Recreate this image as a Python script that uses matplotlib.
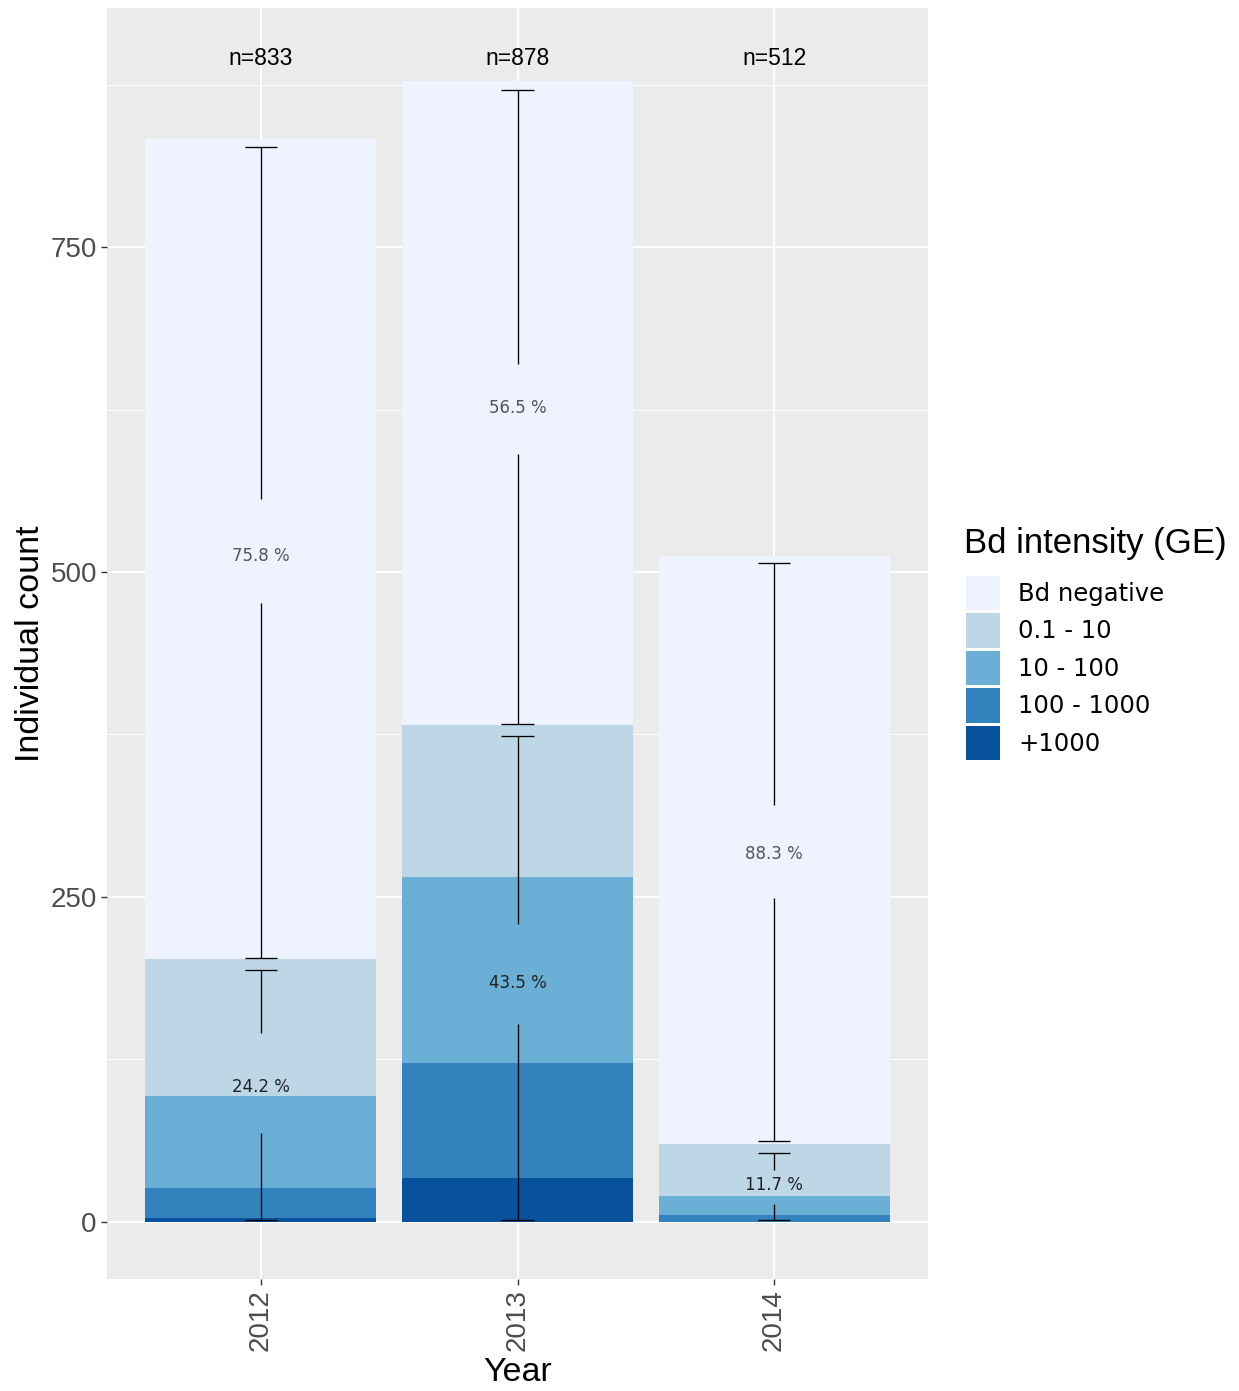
import matplotlib
matplotlib.use("Agg")
import matplotlib.pyplot as plt
from matplotlib.patches import Patch
from matplotlib.ticker import MultipleLocator
import numpy as np

# ---- data -------------------------------------------------------------
years = ["2012", "2013", "2014"]
intensity_classes = ["Bd negative", "0.1 - 10", "10 - 100", "100 - 1000", "+1000"]

# individuals per Bd intensity class and year
bd_negative = [631, 496, 452]
ge_0_1_10 = [105, 117, 40]
ge_10_100 = [71, 143, 15]
ge_100_1000 = [23, 88, 5]
ge_1000_plus = [3, 34, 0]

# error bar limits for the negative and positive groups
neg_err_low = [203, 383, 62.5]
neg_err_high = [827, 871, 507]
pos_err_low = [1.3, 1.3, 1.3]
pos_err_high = [194, 374, 53]

# y-positions of the percentage labels and the break around them
neg_label_y = [512, 626, 283]
pos_label_y = [104, 184, 28.5]
neg_break = [(476, 556), (591, 660), (249, 321)]
pos_break = [(68, 145), (152, 229), (14, 40)]

colors = ["#EFF3FF", "#BDD7E7", "#6BAED6", "#3182BD", "#08519C"]

# ---- figure -----------------------------------------------------------
W, H = 1239, 1391
fig = plt.figure(figsize=(W / 100, H / 100), dpi=100)
ax = fig.add_axes([107 / W, 1 - 1279 / H, (928 - 107) / W, (1279 - 8) / H])
ax.set_facecolor("#EBEBEB")

x = np.arange(1, len(years) + 1)
# stack from the highest intensity at the bottom up to Bd negative at the top
stack_order = [ge_1000_plus, ge_100_1000, ge_10_100, ge_0_1_10, bd_negative]
stack_colors = colors[::-1]
bottom = np.zeros(len(years))
for vals, col in zip(stack_order, stack_colors):
    vals = np.array(vals, dtype=float)
    ax.bar(x, vals, width=0.9, bottom=bottom, color=col, edgecolor="none",
           zorder=2)
    bottom += vals
totals = bottom

positives = (np.array(ge_0_1_10) + np.array(ge_10_100)
             + np.array(ge_100_1000) + np.array(ge_1000_plus))
neg_pct = np.array(bd_negative) / totals * 100
pos_pct = positives / totals * 100

cap = 0.064
lw_err = 0.95


def draw_errbar(xc, lo, hi, brk):
    ax.plot([xc, xc], [lo, brk[0]], color="black", lw=lw_err, zorder=3,
            solid_capstyle="butt")
    ax.plot([xc, xc], [brk[1], hi], color="black", lw=lw_err, zorder=3,
            solid_capstyle="butt")
    for yy in (lo, hi):
        ax.plot([xc - cap, xc + cap], [yy, yy], color="black", lw=lw_err,
                zorder=3, solid_capstyle="butt")


for i, xc in enumerate(x):
    draw_errbar(xc, neg_err_low[i], neg_err_high[i], neg_break[i])
    draw_errbar(xc, pos_err_low[i], pos_err_high[i], pos_break[i])
    ax.text(xc, neg_label_y[i], f"{neg_pct[i]:.1f} %", ha="center",
            va="center", fontsize=12, color="#555555",
            family="DejaVu Sans", zorder=4)
    ax.text(xc, pos_label_y[i], f"{pos_pct[i]:.1f} %", ha="center",
            va="center", fontsize=12, color="#222222",
            family="DejaVu Sans", zorder=4)
    ax.text(xc, 895, f"n={int(totals[i])}", ha="center", va="center",
            fontsize=16.5, color="black", family="Liberation Sans", zorder=4)

# ---- axes styling -----------------------------------------------------
ax.set_xlim(0.4, 3.6)
ax.set_ylim(-44, 934)
ax.set_xticks(x)
ax.set_xticklabels(years, rotation=90, family="Liberation Sans",
                   fontsize=20, color="#4D4D4D")
ax.yaxis.set_major_locator(MultipleLocator(250))
ax.yaxis.set_minor_locator(MultipleLocator(125))
ax.set_yticks([0, 250, 500, 750])
ax.set_yticklabels(["0", "250", "500", "750"], family="Liberation Sans",
                   fontsize=20, color="#4D4D4D")
ax.tick_params(axis="both", which="major", length=4.3, width=1.0,
               color="#333333", pad=3)
ax.tick_params(axis="y", which="minor", length=0)
ax.grid(which="major", color="white", lw=1.4, zorder=0)
ax.grid(which="minor", axis="y", color="white", lw=0.7, zorder=0)
ax.set_axisbelow(True)
for s in ax.spines.values():
    s.set_visible(False)

ax.set_xlabel("Year", family="Liberation Sans", fontsize=24.5, labelpad=4.5)
ax.set_ylabel("Individual count", family="Liberation Sans", fontsize=24.5,
              labelpad=3)

# ---- legend -----------------------------------------------------------
fig.text(964 / W, 1 - 543 / H, "Bd intensity (GE)", ha="left", va="center",
         family="Liberation Sans", fontsize=25)
handles = [Patch(facecolor=c, edgecolor="none") for c in colors]
leg = fig.legend(handles, intensity_classes, loc="upper left",
                 bbox_to_anchor=(966 / W, 1 - 576 / H), frameon=False,
                 prop={"family": "DejaVu Sans", "size": 17.5},
                 handlelength=1.4, handleheight=1.78, labelspacing=0.14,
                 handletextpad=0.76, borderpad=0, borderaxespad=0)

fig.savefig("out.png", dpi=100, facecolor="white")
